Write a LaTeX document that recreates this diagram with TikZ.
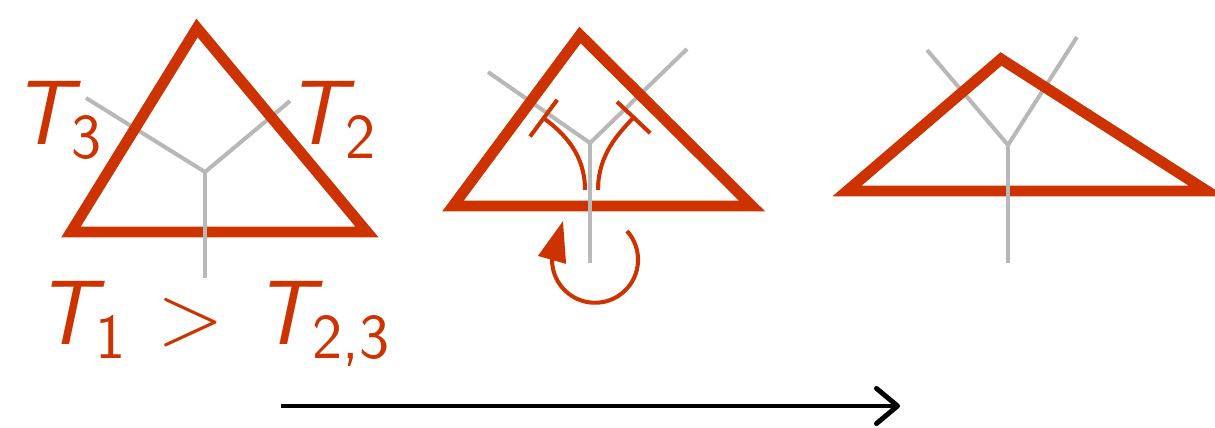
\documentclass[tikz,border=0pt]{standalone}
\usepackage{amsmath}
\usetikzlibrary{arrows.meta}
\definecolor{TriDraw}{RGB}{204,51,0}
\definecolor{YDraw}{RGB}{184,184,184}
\newcommand{\sfT}{\text{\sffamily\itshape T}}
\newcommand{\sfSub}[1]{\text{\sffamily #1}}
\tikzset{
  %% triangle outline
  triBlk/.style={
    draw=TriDraw,
    line width=3.1pt,
    line join=miter,
  },
  %% grey Y skeleton
  yLeg/.style={
    draw=YDraw,
    line width=1.15pt,
  },
  %% thin red paths
  flowArr/.style={
    -{Bar[width=13pt]},
    draw=TriDraw,
    line width=1.15pt,
  },
  rotArr/.style={
    -{Triangle[length=11.5pt,width=8pt]},
    draw=TriDraw,
    line width=1.15pt,
  },
  %% time arrow
  timeArr/.style={
    -{Straight Barb[length=6pt,width=10pt,round]},
    line width=1.4pt,
    black,
  },
  %% labels
  tLbl/.style={
    text=TriDraw,
    font=\fontsize{26}{30}\selectfont\sffamily,
    inner sep=0pt,
    anchor=base west,
  },
}

\begin{document}
\begin{tikzpicture}[x=0.01cm, y=-0.01cm]
\useasboundingbox (0,0) rectangle (1215,428);

%% ── Stage 1: hot bottom edge ──────────────────────────────────────────────
\coordinate (A1) at (197,28);
\coordinate (L1) at (71,232);
\coordinate (R1) at (367,232);
\coordinate (Y1c) at (205,172);
\coordinate (Y1d) at (205,278);
\coordinate (Y1l) at (86,98);
\coordinate (Y1r) at (290,101);

\draw[yLeg] (Y1l) -- (Y1c) -- (Y1r);
\draw[triBlk] (A1) -- (L1) -- (R1) -- cycle;
\draw[yLeg] (Y1c) -- (Y1d);

\node[tLbl] (T3) at (12,145) {$\sfT_{\sfSub{3}}$};
\node[tLbl] (T2) at (286,145) {$\sfT_{\sfSub{2}}$};
\node[tLbl] (TCMP) at (36,345) {$\sfT_{\sfSub{1}} \mkern1.2mu>\mkern1.2mu \sfT_{\sfSub{2,3}}$};

%% ── Stage 2: junction moves, edge rotates ─────────────────────────────────
\coordinate (A2) at (580,35);
\coordinate (L2) at (453,206);
\coordinate (R2) at (752,206);
\coordinate (Y2c) at (590,143);
\coordinate (Y2d) at (590,263);
\coordinate (Y2l) at (488,72);
\coordinate (Y2r) at (687,49);

\draw[yLeg] (Y2l) -- (Y2c) -- (Y2r);
\draw[triBlk] (A2) -- (L2) -- (R2) -- cycle;
\draw[yLeg] (Y2c) -- (Y2d);

\coordinate (FLs) at (585,190);
\coordinate (FLe) at (542,117);
\coordinate (FRs) at (598,190);
\coordinate (FRe) at (635,116);
\draw[flowArr] (FLs) .. controls (585,155) and (565,134) .. (FLe);
\draw[flowArr] (FRs) .. controls (598,155) and (618,134) .. (FRe);

\coordinate (ROTs) at (627,231);
\coordinate (ROTtip) at (563,221);
\draw[rotArr] (ROTs) arc[start angle=-42, end angle=180, radius=43] -- (ROTtip);

%% ── Stage 3: final shape ──────────────────────────────────────────────────
\coordinate (A3) at (1001,59);
\coordinate (L3) at (847,191);
\coordinate (R3) at (1207,191);
\coordinate (Y3c) at (1008,145);
\coordinate (Y3d) at (1008,263);
\coordinate (Y3l) at (927,50);
\coordinate (Y3r) at (1077,37);

\draw[yLeg] (Y3l) -- (Y3c) -- (Y3r);
\draw[triBlk] (A3) -- (L3) -- (R3) -- cycle;
\draw[yLeg] (Y3c) -- (Y3d);

%% ── Time arrow ────────────────────────────────────────────────────────────
\coordinate (TIMEs) at (281,406);
\coordinate (TIMEe) at (900,406);
\draw[timeArr] (TIMEs) -- (TIMEe);

\end{tikzpicture}
\end{document}
